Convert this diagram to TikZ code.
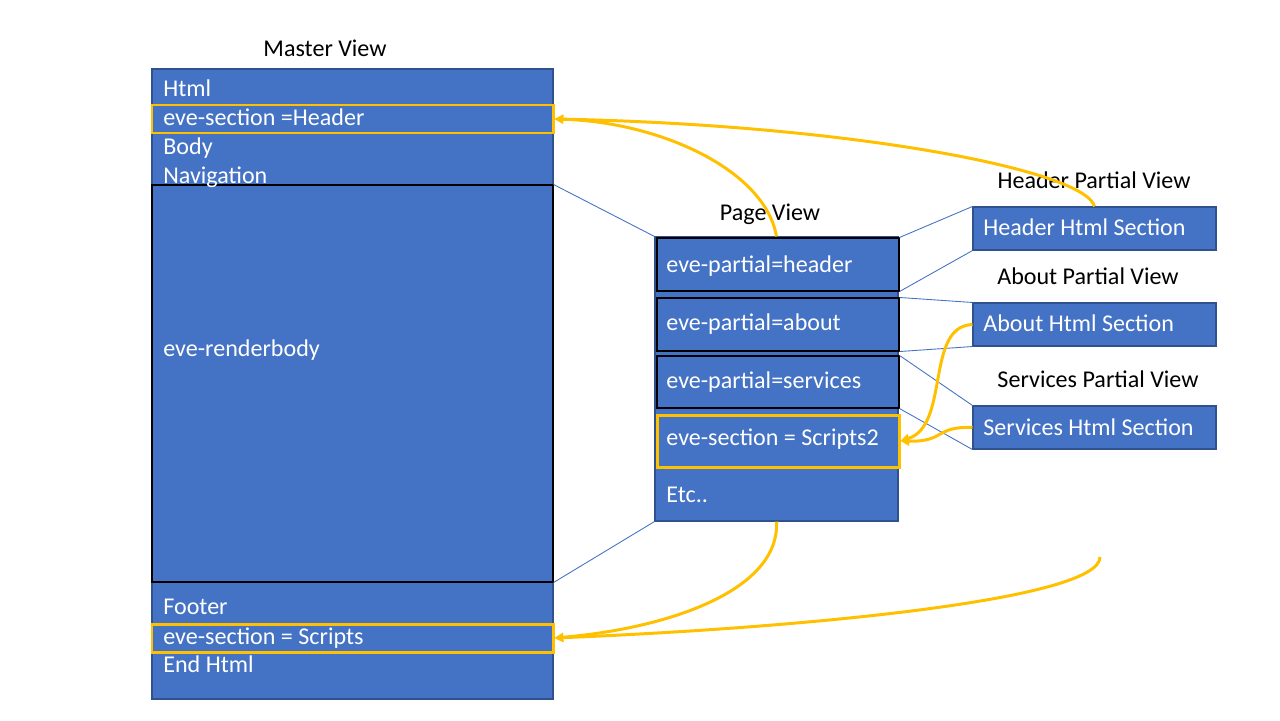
\documentclass[tikz,border=0pt]{standalone}
\usepackage{fontspec}
\setmainfont{Carlito}
\usepackage{tikz}
\usetikzlibrary{arrows.meta, positioning, fit}
\definecolor{boxblue}{RGB}{68,114,196}
\definecolor{boxedge}{RGB}{47,82,143}
\definecolor{secgold}{RGB}{255,192,0}
\tikzset{
  panel/.style={rectangle, draw=boxedge, fill=boxblue, line width=0.6pt, inner sep=0pt},
  slot/.style={rectangle, draw=black, fill=boxblue, line width=0.6pt, inner sep=0pt},
  secbox/.style={rectangle, draw=secgold, fill=boxblue, line width=1.7pt, inner sep=0pt},
  link/.style={color=boxblue, line width=0.5pt},
  flow/.style={-{Triangle[length=5pt,width=5pt]}, color=secgold, line width=1.7pt}
}

\begin{document}
\begin{tikzpicture}[x=0.02cm, y=-0.02cm,
  txt/.style={font=\fontsize{13.7}{16}\selectfont, text=white, anchor=base west, inner sep=0pt},
  lbl/.style={font=\fontsize{13.7}{16}\selectfont, text=black, anchor=base, inner sep=0pt}
]
\useasboundingbox (0,0) rectangle (1280,720);
% Master view
\node[lbl] (mlbl) at (325,56) {Master View};
\node[panel, fit={(152,69) (553,699)}] (master) {};
\node[secbox, fit={(152,105) (553,133)}] (mhead) {};
\node[slot, fit={(152,185) (553,582)}] (render) {};
\node[secbox, fit={(152,624) (553,652)}] (mscripts) {};
\node[txt] (thtml) at (163,96) {Html};
\node[txt] (thead) at (163,125) {eve-section =Header};
\node[txt] (tbody) at (163,154) {Body};
\node[txt] (tnav) at (163,183) {Navigation};
\node[txt] (trender) at (163,356) {eve-renderbody};
\node[txt] (tfoot) at (163,614) {Footer};
\node[txt] (tscripts) at (163,644) {eve-section = Scripts};
\node[txt] (tend) at (163,672) {End Html};
% Page view
\node[lbl] (plbl) at (770,220) {Page View};
\node[panel, fit={(655,237) (898,521)}] (page) {};
\node[slot, fit={(657,238) (899,291)}] (pheader) {};
\node[slot, fit={(657,298) (899,351)}] (pabout) {};
\node[slot, fit={(657,356) (899,408)}] (pservices) {};
\node[secbox, fit={(657,415) (899,467)}] (pscripts) {};
\node[txt] (tph) at (666,272) {eve-partial=header};
\node[txt] (tpa) at (666,330) {eve-partial=about};
\node[txt] (tps) at (666,388) {eve-partial=services};
\node[txt] (tpx) at (666,445) {eve-section = Scripts2};
\node[txt] (tetc) at (666,502) {Etc..};
% Partial views
\node[lbl] (hlbl) at (1094,188) {Header Partial View};
\node[panel, fit={(973,207) (1216,250)}] (hsec) {};
\node[txt] (ths) at (983,235) {Header Html Section};
\node[lbl] (albl) at (1088,284) {About Partial View};
\node[panel, fit={(973,303) (1216,346)}] (asec) {};
\node[txt] (tas) at (983,331) {About Html Section};
\node[lbl] (slbl) at (1098,387) {Services Partial View};
\node[panel, fit={(973,406) (1216,449)}] (ssec) {};
\node[txt] (tss) at (983,435) {Services Html Section};
% thin guide lines
\draw[link] (render.north east) -- (page.north west);
\draw[link] (render.south east) -- (page.south west);
\draw[link] (pheader.north east) -- (hsec.north west);
\draw[link] (pheader.south east) -- (hsec.south west);
\draw[link] (pabout.north east) -- (asec.north west);
\draw[link] (pabout.south east) -- (asec.south west);
\draw[link] (pservices.north east) -- (ssec.north west);
\draw[link] (pservices.south east) -- (ssec.south west);
% section flows
\coordinate (tail) at (1100,557);
\draw[flow] (hsec.north) .. controls (1085,170) and (850,125) .. (mhead.east);
\draw[flow] (page.north) .. controls (765,170) and (660,122) .. (mhead.east);
\draw[flow] (asec.west) .. controls (925,326) and (950,425) .. (pscripts.east);
\draw[flow] (ssec.west) .. controls (935,426) and (945,442) .. (pscripts.east);
\draw[flow] (page.south) .. controls (780,590) and (670,628) .. (mscripts.east);
\draw[flow] (tail) .. controls (1100,600) and (800,628) .. (mscripts.east);
\end{tikzpicture}
\end{document}
